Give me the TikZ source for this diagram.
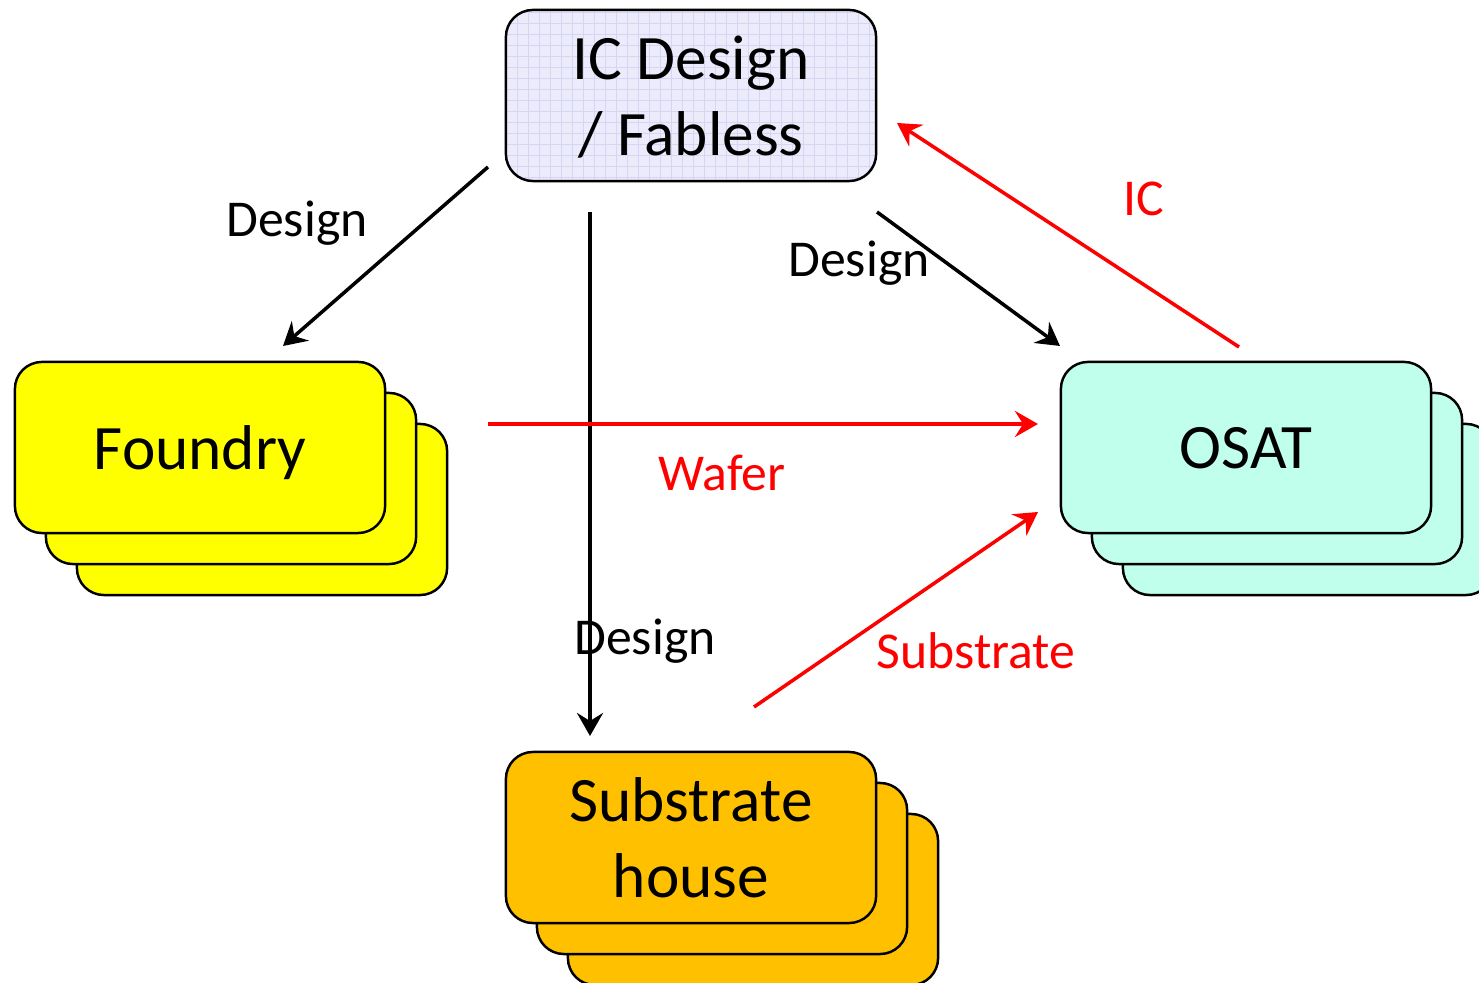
\documentclass[tikz,border=0pt]{standalone}
\usepackage{fontspec}
\setmainfont{Carlito}
\usetikzlibrary{arrows.meta, positioning}

\definecolor{icfill}{HTML}{EBEBFB}
\definecolor{icgrid}{HTML}{D6D6F2}
\definecolor{foundryfill}{HTML}{FFFF00}
\definecolor{osatfill}{HTML}{BFFFEB}
\definecolor{subfill}{HTML}{FFC000}

\tikzset{
  stackbox/.style = {draw, line width=0.7pt, rounded corners=0.27cm,
    minimum width=3.7cm, minimum height=1.71cm, align=center, text depth=0pt,
    font=\fontsize{18}{21.6}\selectfont},
  designarrow/.style = {-{Stealth[length=2.3mm, width=2.6mm, inset=0.8mm]},
    line width=1pt},
  goodsarrow/.style = {designarrow, red},
  lbl/.style = {font=\fontsize{14.7}{17}\selectfont}
}

\begin{document}
\begin{tikzpicture}[x=0.01cm, y=-0.01cm]
  \clip (0,0) rectangle (1479,983);

  % companies
  \node (ic) [stackbox, fill=icfill, path picture={\draw [icgrid, line width=0.3pt, step=0.11cm]
      (path picture bounding box.south west) grid (path picture bounding box.north east);}]
      at (691,95.5) {IC Design\\/ Fabless};

  \foreach \n/\c/\x/\y in {foundry/foundryfill/200/447.5, osat/osatfill/1246/447.5,
      substrate/subfill/691/837.5} {
    \node (\n3) [stackbox, fill=\c] at (\x+62,\y+62) {};
    \node (\n2) [stackbox, fill=\c] at (\x+31,\y+31) {};
  }
  \node (foundry) [stackbox, fill=foundryfill] at (200,447.5) {Foundry};
  \node (osat) [stackbox, fill=osatfill] at (1246,447.5) {OSAT};
  \node (substrate) [stackbox, fill=subfill] at (691,837.5) {Substrate\\house};

  % arrow ends
  \coordinate (icleft) at (488,167);   \coordinate (foundrytop) at (283,346);
  \coordinate (icmid) at (590,212);    \coordinate (subtop) at (590,736);
  \coordinate (icright) at (877,212);  \coordinate (osattop) at (1060,346);
  \coordinate (osatic) at (1239,347);  \coordinate (icback) at (897,123);
  \coordinate (foundryout) at (488,424); \coordinate (osatin) at (1038,424);
  \coordinate (subout) at (754,707);   \coordinate (osatsub) at (1038,512);

  \draw [designarrow] (icleft) -- (foundrytop);
  \draw [designarrow] (icmid) -- (subtop);
  \draw [designarrow] (icright) -- (osattop);
  \draw [goodsarrow] (osatic) -- (icback);
  \draw [goodsarrow] (foundryout) -- (osatin);
  \draw [goodsarrow] (subout) -- (osatsub);

  % labels
  \node (dlbl1) [lbl] at (297,223) {Design};
  \node (dlbl2) [lbl] at (859,263) {Design};
  \node (dlbl3) [lbl] at (645,641) {Design};
  \node (iclbl) [lbl, red] at (1144,199) {IC};
  \node (waferlbl) [lbl, red] at (722,473) {Wafer};
  \node (sublbl) [lbl, red] at (976,651) {Substrate};
\end{tikzpicture}
\end{document}
